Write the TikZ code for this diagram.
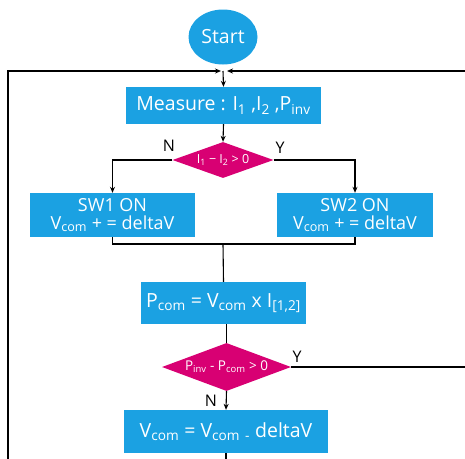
\documentclass[tikz,border=0pt]{standalone}
\usepackage{fontspec}
\setmainfont{Open Sans}
\usetikzlibrary{shapes.geometric,arrows.meta}
\definecolor{fblue}{HTML}{1BA1E2}
\definecolor{fmag}{HTML}{D80073}
\newcommand{\lo}[1]{\textsubscript{#1}}
\begin{document}
\begin{tikzpicture}[x=1pt,y=-1pt,
  box/.style={fill=fblue,text=white,inner sep=0,align=center,font=\fontsize{19.5}{22}\selectfont},
  dia/.style={diamond,fill=fmag,inner sep=0},
  lab/.style={font=\fontsize{16}{18}\selectfont,inner sep=0},
  line/.style={line width=1.1pt},
  arr/.style={line width=1.1pt,-{Stealth[length=6pt,width=5pt]}}]
\useasboundingbox (0,0) rectangle (465,458);
\node[ellipse,fill=fblue,text=white,minimum width=69,minimum height=55,inner sep=0,font=\fontsize{19.5}{22}\selectfont] (start) at (223,37) {Start};
\node[box,minimum width=195,minimum height=37] (meas) at (223.5,105.5) {Measure : I\lo{1} ,I\lo{2} ,P\lo{inv}};
\node[dia,minimum width=101,minimum height=36] (d1) at (223,160) {};
\node[text=white,font=\fontsize{12.5}{14}\selectfont,inner sep=0] (d1t) at (223,160) {I\lo{1} − I\lo{2} > 0};
\node[box,font=\fontsize{18}{21}\selectfont,minimum width=165,minimum height=44] (sw1) at (112.5,215) {SW1 ON\\[-3pt]V\lo{com} + = deltaV};
\node[box,font=\fontsize{18}{21}\selectfont,minimum width=156,minimum height=44] (sw2) at (355,215) {SW2 ON\\[-3pt]V\lo{com} + = deltaV};
\node[box,minimum width=165,minimum height=42] (pcom) at (223.5,303) {P\lo{com} = V\lo{com} x I\lo{[1,2]}};
\node[dia,minimum width=129,minimum height=48] (d2) at (226.5,367) {};
\node[text=white,font=\fontsize{13.5}{15}\selectfont,inner sep=0] (d2t) at (226.5,367) {P\lo{inv} - P\lo{com} > 0};
\node[box,minimum width=204,minimum height=43] (vcom) at (226,431.5) {V\lo{com} = V\lo{com} \lo{-} deltaV};
\node[lab] (n1) at (169,146) {N};
\node[lab] (y1) at (280,148) {Y};
\node[lab] (y2) at (297,357) {Y};
\node[lab] (n2) at (211,401) {N};
\coordinate (top) at (223,71);
\coordinate (tl) at (221,71);
\coordinate (tr) at (227,71);
\coordinate (join) at (223,244);
% connectors
\draw[arr] (top) -- (meas.north);
\draw[arr] (meas.south) -- (d1.north);
\draw[arr] (d1.west) -| (sw1.north);
\draw[arr] (d1.east) -| (sw2.north);
\draw[line] (sw1.south) |- (join) -| (sw2.south);
\draw[line] (join) -- (pcom.north);
\draw[line] (pcom.south -| d2.north) -- (d2.north);
\draw[arr] (d2.south) -- (vcom.north);
\draw[arr] (d2.east) -- (472,367) -- (472,71) -- (tr);
\draw[arr] (vcom.south) -- (226,470) -- (8,470) -- (8,71) -- (tl);
\end{tikzpicture}
\end{document}
